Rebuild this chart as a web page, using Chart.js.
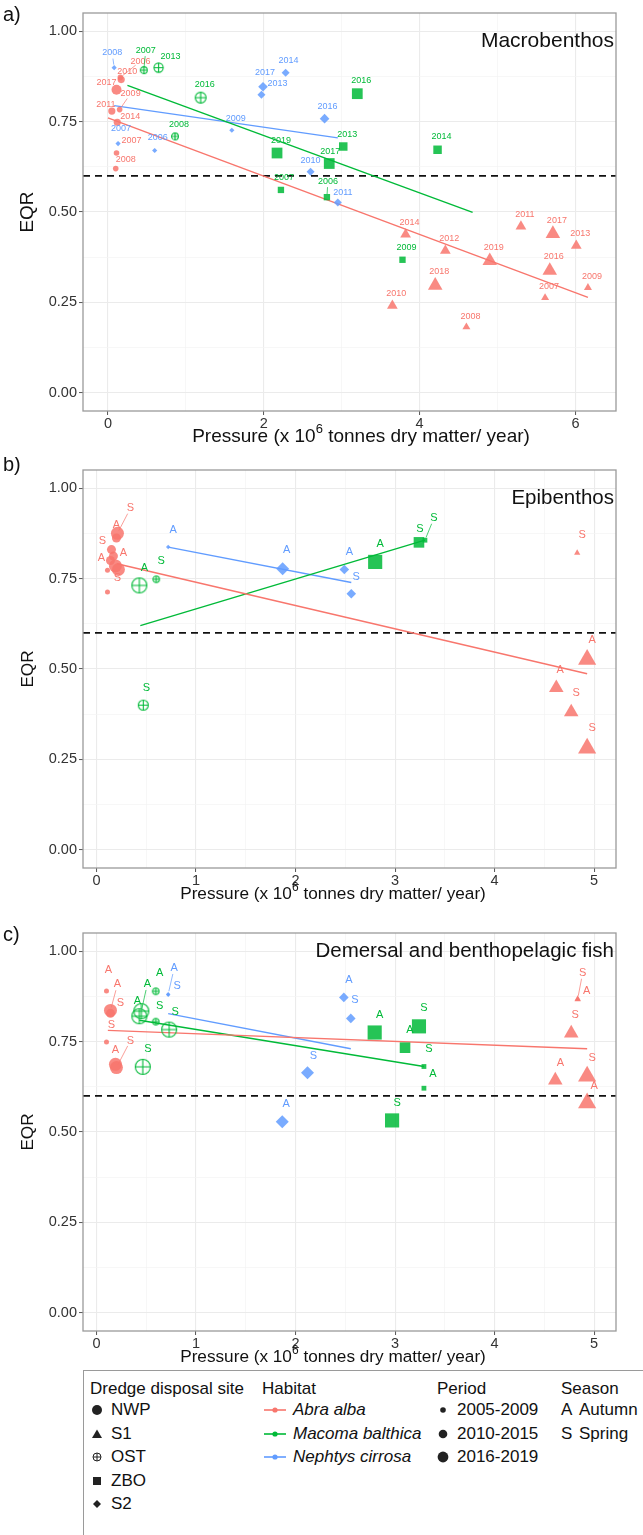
<!DOCTYPE html>
<html>
<head>
<meta charset="utf-8">
<script src="https://cdn.jsdelivr.net/npm/chart.js@4.4.1/dist/chart.umd.min.js"></script>
<style>
  body { margin: 0; background: #fff; width: 643px; height: 1535px; position: relative; overflow: hidden;
         font-family: "Liberation Sans", Arial, sans-serif; color: #111; }
  .panel { position: absolute; left: 0; width: 643px; height: 450px; }
  #legend { position: absolute; left: 83px; top: 1370px; width: 600px; height: 200px;
            border: 1px solid #9a9a9a; font-size: 17px; }
  #legend .t { position: absolute; white-space: nowrap; line-height: 20px; transform: translateY(-50%); }
  #legend svg { position: absolute; transform: translate(-50%, -50%); }
  #legend i { font-style: italic; }
</style>
</head>
<body>
<div class="panel" style="top:0px"><canvas id="cA" width="643" height="450"></canvas></div>
<div class="panel" style="top:457px"><canvas id="cB" width="643" height="450"></canvas></div>
<div class="panel" style="top:920px"><canvas id="cC" width="643" height="450"></canvas></div>
<div id="legend"></div>
<script>
// ---------- data: a) Macrobenthos ----------
const macroHabitat = [
  'Abra alba','Abra alba','Abra alba','Abra alba','Abra alba','Abra alba','Abra alba','Abra alba',
  'Abra alba','Abra alba','Abra alba','Abra alba','Abra alba','Abra alba','Abra alba','Abra alba','Abra alba','Abra alba','Abra alba','Abra alba',
  'Macoma balthica','Macoma balthica','Macoma balthica','Macoma balthica',
  'Macoma balthica','Macoma balthica','Macoma balthica','Macoma balthica','Macoma balthica','Macoma balthica','Macoma balthica','Macoma balthica',
  'Nephtys cirrosa','Nephtys cirrosa','Nephtys cirrosa','Nephtys cirrosa','Nephtys cirrosa','Nephtys cirrosa','Nephtys cirrosa','Nephtys cirrosa','Nephtys cirrosa','Nephtys cirrosa'];
const macroSite = [
  'NWP','NWP','NWP','NWP','NWP','NWP','NWP','NWP',
  'S1','S1','S1','S1','S1','S1','S1','S1','S1','S1','S1','S1',
  'OST','OST','OST','OST',
  'ZBO','ZBO','ZBO','ZBO','ZBO','ZBO','ZBO','ZBO',
  'S2','S2','S2','S2','S2','S2','S2','S2','S2','S2'];
const macroYear = [
  2010, 2006, 2017, 2009, 2011, 2014, 2007, 2008,
  2014, 2012, 2019, 2011, 2017, 2013, 2016, 2009, 2007, 2018, 2010, 2008,
  2007, 2013, 2016, 2008,
  2019, 2007, 2017, 2006, 2013, 2016, 2014, 2009,
  2008, 2007, 2006, 2009, 2017, 2013, 2014, 2016, 2010, 2011];
const macroPressure = [
  0.17, 0.16, 0.11, 0.15, 0.05, 0.12, 0.11, 0.10,
  3.82, 4.33, 4.90, 5.30, 5.71, 6.01, 5.67, 6.16, 5.61, 4.20, 3.65, 4.60,
  0.46, 0.65, 1.19, 0.86,
  2.17, 2.22, 2.84, 2.81, 3.02, 3.20, 4.23, 3.78,
  0.08, 0.13, 0.60, 1.59, 1.99, 1.97, 2.28, 2.78, 2.60, 2.95];
const macroEQR = [
  0.866, 0.872, 0.838, 0.783, 0.779, 0.748, 0.663, 0.620,
  0.438, 0.393, 0.365, 0.460, 0.440, 0.407, 0.338, 0.291, 0.263, 0.297, 0.241, 0.182,
  0.892, 0.899, 0.816, 0.709,
  0.663, 0.561, 0.634, 0.541, 0.681, 0.827, 0.672, 0.368,
  0.899, 0.689, 0.670, 0.726, 0.846, 0.824, 0.885, 0.758, 0.611, 0.526];
const macroTrendX0 = [0.00, 0.25, 0.08];
const macroTrendX1 = [6.16, 4.68, 2.95];
const macroTrendY0 = [0.760, 0.850, 0.794];
const macroTrendY1 = [0.264, 0.499, 0.705];

// ---------- data: b) Epibenthos ----------
const epiHabitat = [
  'Abra alba','Abra alba','Abra alba','Abra alba','Abra alba','Abra alba','Abra alba','Abra alba','Abra alba',
  'Abra alba','Abra alba','Abra alba','Abra alba','Abra alba',
  'Macoma balthica','Macoma balthica','Macoma balthica',
  'Macoma balthica','Macoma balthica','Macoma balthica',
  'Nephtys cirrosa','Nephtys cirrosa','Nephtys cirrosa','Nephtys cirrosa'];
const epiSite = [
  'NWP','NWP','NWP','NWP','NWP','NWP','NWP','NWP','NWP',
  'S1','S1','S1','S1','S1',
  'OST','OST','OST',
  'ZBO','ZBO','ZBO',
  'S2','S2','S2','S2'];
const epiPeriod = [3, 2, 2, 2, 2, 1, 3, 3, 1,  1, 3, 2, 2, 3,  3, 1, 2,  3, 2, 1,  1, 3, 2, 2];
const epiSeason = ['S','A','S','A','A','','S','','',  'S','A','A','S','S',  'A','S','S',  'A','S','S',  'A','A','A','S'];
const epiPressure = [0.21, 0.20, 0.15, 0.17, 0.14, 0.11, 0.19, 0.22, 0.11,
  4.83, 4.93, 4.62, 4.77, 4.93,  0.43, 0.60, 0.47,  2.80, 3.24, 3.30,  0.72, 1.87, 2.49, 2.56];
const epiEQR = [0.875, 0.862, 0.830, 0.812, 0.800, 0.773, 0.785, 0.775, 0.713,
  0.821, 0.526, 0.448, 0.381, 0.281,  0.731, 0.748, 0.400,  0.796, 0.850, 0.856,  0.837, 0.777, 0.775, 0.708];
const epiTrendX0 = [0.205, 0.44, 0.72];
const epiTrendX1 = [4.93, 3.30, 2.56];
const epiTrendY0 = [0.791, 0.620, 0.837];
const epiTrendY1 = [0.487, 0.856, 0.739];

// ---------- data: c) Demersal and benthopelagic fish ----------
const fishHabitat = [
  'Abra alba','Abra alba','Abra alba','Abra alba','Abra alba','Abra alba',
  'Abra alba','Abra alba','Abra alba','Abra alba','Abra alba','Abra alba',
  'Macoma balthica','Macoma balthica','Macoma balthica','Macoma balthica','Macoma balthica','Macoma balthica',
  'Macoma balthica','Macoma balthica','Macoma balthica','Macoma balthica','Macoma balthica','Macoma balthica',
  'Nephtys cirrosa','Nephtys cirrosa','Nephtys cirrosa','Nephtys cirrosa','Nephtys cirrosa','Nephtys cirrosa'];
const fishSite = [
  'NWP','NWP','NWP','NWP','NWP','NWP',
  'S1','S1','S1','S1','S1','S1',
  'OST','OST','OST','OST','OST','OST',
  'ZBO','ZBO','ZBO','ZBO','ZBO','ZBO',
  'S2','S2','S2','S2','S2','S2'];
const fishPeriod = [1, 3, 2, 1, 3, 3,  1, 1, 2, 2, 3, 3,  1, 3, 3, 1, 3, 3,  3, 2, 3, 1, 1, 3,  1, 1, 2, 2, 3, 3];
const fishSeason = ['A','A','S','S','A','S',  'S','A','S','A','S','A',  'A','A','A','S','S','S',  'A','A','S','S','A','S',  'A','S','A','S','S','A'];
const fishPressure = [0.10, 0.14, 0.14, 0.10, 0.19, 0.20,  4.835, 4.835, 4.77, 4.61, 4.93, 4.93,
  0.595, 0.45, 0.43, 0.595, 0.73, 0.465,  2.795, 3.10, 3.24, 3.29, 3.29, 2.97,
  0.72, 0.72, 2.485, 2.555, 2.12, 1.866];
const fishEQR = [0.890, 0.836, 0.828, 0.749, 0.687, 0.678,  0.868, 0.866, 0.773, 0.643, 0.654, 0.580,
  0.889, 0.834, 0.820, 0.805, 0.783, 0.680,  0.775, 0.733, 0.792, 0.681, 0.621, 0.532,
  0.881, 0.879, 0.872, 0.814, 0.664, 0.528];
const fishTrendX0 = [0.114, 0.43, 0.72];
const fishTrendX1 = [4.93, 3.29, 2.555];
const fishTrendY0 = [0.781, 0.809, 0.827];
const fishTrendY1 = [0.730, 0.681, 0.730];

const habitats = ['Abra alba', 'Macoma balthica', 'Nephtys cirrosa'];
const eqrThreshold = 0.6;
const yTicks = [0, 0.25, 0.5, 0.75, 1];

// ---------- styling / layout ----------
const FONT = '"Liberation Sans", Arial, sans-serif';
const COLORS = { 'Abra alba': '#F8766D', 'Macoma balthica': '#00BA38', 'Nephtys cirrosa': '#619CFF' };
function rgba(hex, a) {
  const n = parseInt(hex.slice(1), 16);
  return `rgba(${n >> 16},${(n >> 8) & 255},${n & 255},${a})`;
}
const STYLE = { NWP: 'circle', S1: 'triangle', OST: 'ost', ZBO: 'rect', S2: 'rectRot' };
// point radius by period (small, medium, large)
const SIZE_A = { NWP: [2.8, 3.6, 5.0], S1: [4.6, 6.2, 8.4], OST: [3.4, 4.6, 5.4], ZBO: [4.5, 6.0, 7.6], S2: [2.6, 4.0, 4.8] };
const SIZE_BC = { NWP: [2.5, 4.5, 6.5], S1: [3.6, 8.4, 10.5], OST: [3.2, 5.0, 7.5], ZBO: [3.4, 7.5, 10.0], S2: [2.2, 4.8, 6.5] };

// label placement (dx, dy in px, leader flag)
const macroNudge = [
  [6,-8],[20,-16,1],[-10,-7],[11,-16,1],[-6,-7],[13,-6],[15,-13],[10,-9],
  [4,-12],[4,-12],[4,-13],[4,-12],[4,-13],[4,-12],[4,-14],[4,-11],[4,-11],[4,-14],[4,-12],[4,-11],
  [2,-20,1],[12,-11],[4,-13],[4,-12],
  [4,-13],[3,-12],[1,-12],[1,-16,1],[4,-12],[4,-13],[4,-13],[4,-12],
  [-2,-15,1],[3,-15],[3,-13],[4,-12],[2,-14],[16,-11],[3,-12],[3,-12],[0,-11],[5,-10]];
const epiNudge = [
  [13,-25,1],[0,-13],[-9,-9],[10,-3],[-9,-2],[0,0],[2,12],[0,0],[0,0],
  [5,-18],[5,-20],[4,-18],[5,-19],[5,-20],
  [5,-17],[5,-18],[3,-17],
  [5,-18],[1,-13],[9,-22,1],
  [5,-17],[4,-19],[5,-18],[5,-17]];
const fishNudge = [
  [2,-21],[7,-26,1],[10,-10],[5,-17],[0,-14],[14,-27,1],
  [5,-26,1],[9,-9],[4,-18],[5,-17],[5,-18],[7,-17],
  [4,-18],[6,-27,1],[-2,-15],[4,-16],[6,-18],[5,-18],
  [5,-18],[5,-18],[5,-18],[5,-18],[9,-14],[5,-17],
  [6,-26,1],[9,-9],[5,-17],[4,-18],[6,-17],[4,-18]];

const ostCache = {};
function ostImage(r, color) {
  const key = r + color;
  if (ostCache[key]) return ostCache[key];
  const s = Math.ceil(2 * r + 3);
  const c = document.createElement('canvas');
  c.width = s; c.height = s;
  const g = c.getContext('2d');
  g.strokeStyle = color; g.lineWidth = 1.1;
  g.beginPath(); g.arc(s / 2, s / 2, r, 0, Math.PI * 2); g.stroke();
  g.beginPath();
  g.moveTo(s / 2 - r, s / 2); g.lineTo(s / 2 + r, s / 2);
  g.moveTo(s / 2, s / 2 - r); g.lineTo(s / 2, s / 2 + r);
  g.stroke();
  ostCache[key] = c;
  return c;
}

function periodOfYear(y) { return y <= 2009 ? 1 : (y <= 2015 ? 2 : 3); }

const near = (v, step) => Math.abs(v / step - Math.round(v / step)) < 1e-6;

const panelPlugin = {
  id: 'panel',
  afterDatasetsDraw(chart, args, o) {
    const { ctx, chartArea: a, scales: { x, y } } = chart;
    const p = o.p;
    ctx.save();
    // point labels
    ctx.font = `${p.labelSize}px ${FONT}`;
    ctx.textAlign = 'center';
    ctx.textBaseline = 'middle';
    p.pressure.forEach((v, i) => {
      const txt = p.labels[i];
      if (!txt) return;
      const px = x.getPixelForValue(v), py = y.getPixelForValue(p.eqr[i]);
      const [dx, dy, lead] = p.nudge[i];
      const col = COLORS[p.habitat[i]];
      ctx.fillStyle = col;
      ctx.fillText(txt, px + dx, py + dy);
      if (lead) {
        const len = Math.hypot(dx, dy), ux = dx / len, uy = dy / len;
        ctx.strokeStyle = col; ctx.lineWidth = 0.7;
        ctx.beginPath();
        ctx.moveTo(px + ux * 3, py + uy * 3);
        ctx.lineTo(px + dx - ux * 6, py + dy - uy * 6);
        ctx.stroke();
      }
    });
    // panel border
    ctx.strokeStyle = '#9a9a9a'; ctx.lineWidth = 1.3;
    ctx.strokeRect(a.left, a.top, a.right - a.left, a.bottom - a.top);
    // panel title
    ctx.fillStyle = '#111';
    ctx.font = `${p.titleSize}px ${FONT}`;
    ctx.textAlign = 'right';
    ctx.fillText(p.title, a.right - 2, p.titleY);
    ctx.restore();
  },
  afterDraw(chart, args, o) {
    const { ctx, chartArea: a } = chart;
    const p = o.p;
    ctx.save();
    ctx.fillStyle = '#111';
    ctx.textBaseline = 'middle';
    // panel letter
    ctx.font = `20px ${FONT}`;
    ctx.textAlign = 'left';
    ctx.fillText(p.letter, 3, p.letterY);
    // y title
    ctx.save();
    ctx.translate(28, (a.top + a.bottom) / 2);
    ctx.rotate(-Math.PI / 2);
    ctx.textAlign = 'center';
    ctx.font = `${p.axisTitleSize}px ${FONT}`;
    ctx.fillText('EQR', 0, 0);
    ctx.restore();
    // x title with superscript
    const f = p.axisTitleSize, fs = Math.round(f * 0.68);
    const t1 = 'Pressure (x 10', t2 = '6', t3 = ' tonnes dry matter/ year)';
    ctx.font = `${f}px ${FONT}`;
    const w1 = ctx.measureText(t1).width, w3 = ctx.measureText(t3).width;
    ctx.font = `${fs}px ${FONT}`;
    const w2 = ctx.measureText(t2).width;
    let sx = p.xTitleCenter - (w1 + w2 + w3) / 2;
    ctx.textAlign = 'left';
    ctx.font = `${f}px ${FONT}`;
    ctx.fillText(t1, sx, 437);
    ctx.font = `${fs}px ${FONT}`;
    ctx.fillText(t2, sx + w1, 437 - f * 0.38);
    ctx.font = `${f}px ${FONT}`;
    ctx.fillText(t3, sx + w1 + w2, 437);
    ctx.restore();
  }
};

function buildPanel(id, p) {
  const points = habitats.map(h => {
    const data = [];
    p.pressure.forEach((v, i) => { if (p.habitat[i] === h) data.push({ x: v, y: p.eqr[i], i }); });
    const col = COLORS[h];
    return {
      data,
      showLine: false,
      pointStyle: c => {
        const i = c.raw.i, st = STYLE[p.site[i]];
        return st === 'ost' ? ostImage(p.sizes.OST[p.period[i] - 1], col) : st;
      },
      pointRadius: c => p.sizes[p.site[c.raw.i]][p.period[c.raw.i] - 1],
      pointBackgroundColor: rgba(col, 0.85),
      pointBorderWidth: 0,
      pointHoverRadius: c => p.sizes[p.site[c.raw.i]][p.period[c.raw.i] - 1]
    };
  });
  const trends = habitats.map((h, k) => ({
    data: [{ x: p.tx0[k], y: p.ty0[k] }, { x: p.tx1[k], y: p.ty1[k] }],
    showLine: true, borderColor: COLORS[h], borderWidth: 1.4, pointRadius: 0
  }));
  const threshold = {
    data: [{ x: p.xMin, y: eqrThreshold }, { x: p.xMax, y: eqrThreshold }],
    showLine: true, borderColor: '#111', borderWidth: 1.8, borderDash: [7, 5], pointRadius: 0
  };
  const majorX = v => near(v, p.xLabelStep);
  const majorY = v => yTicks.some(t => Math.abs(t - v) < 1e-6);
  new Chart(document.getElementById(id), {
    type: 'scatter',
    data: { datasets: [...points, ...trends, threshold] },
    options: {
      responsive: false,
      animation: false,
      layout: { padding: { left: 0, right: 27, top: 13, bottom: 0 } },
      plugins: { legend: { display: false }, tooltip: { enabled: false }, panel: { p } },
      scales: {
        x: {
          type: 'linear', min: p.xMin, max: p.xMax,
          afterFit: s => { s.height = 39; },
          ticks: { stepSize: p.xStep, includeBounds: false, autoSkip: false, maxRotation: 0, padding: 0,
                   color: '#333', font: { family: FONT, size: 14.5 },
                   callback: v => majorX(v) ? String(Math.round(v)) : '' },
          grid: { color: c => majorX(c.tick.value) ? '#ebebeb' : '#f4f4f4',
                  lineWidth: c => majorX(c.tick.value) ? 1.1 : 0.7,
                  tickColor: c => majorX(c.tick.value) ? '#555' : 'rgba(0,0,0,0)',
                  tickLength: 4, tickWidth: 1 },
          border: { display: false }
        },
        y: {
          type: 'linear', min: -0.05, max: 1.05,
          afterFit: s => { s.width = 83; },
          ticks: { stepSize: 0.125, includeBounds: false, autoSkip: false, padding: 2,
                   color: '#333', font: { family: FONT, size: 14.5 },
                   callback: v => majorY(v) ? v.toFixed(2) : '' },
          grid: { color: c => majorY(c.tick.value) ? '#ebebeb' : '#f4f4f4',
                  lineWidth: c => majorY(c.tick.value) ? 1.1 : 0.7,
                  tickColor: c => majorY(c.tick.value) ? '#555' : 'rgba(0,0,0,0)',
                  tickLength: 4, tickWidth: 1 },
          border: { display: false }
        }
      }
    },
    plugins: [panelPlugin]
  });
}

buildPanel('cA', {
  habitat: macroHabitat, site: macroSite, pressure: macroPressure, eqr: macroEQR,
  period: macroYear.map(periodOfYear), labels: macroYear.map(String), nudge: macroNudge,
  tx0: macroTrendX0, tx1: macroTrendX1, ty0: macroTrendY0, ty1: macroTrendY1,
  sizes: SIZE_A, labelSize: 9, xMin: -0.32, xMax: 6.52, xStep: 1, xLabelStep: 2,
  title: 'Macrobenthos', titleSize: 21, titleY: 41, letter: 'a)', letterY: 15,
  axisTitleSize: 19, xTitleCenter: 361
});
buildPanel('cB', {
  habitat: epiHabitat, site: epiSite, pressure: epiPressure, eqr: epiEQR,
  period: epiPeriod, labels: epiSeason, nudge: epiNudge,
  tx0: epiTrendX0, tx1: epiTrendX1, ty0: epiTrendY0, ty1: epiTrendY1,
  sizes: SIZE_BC, labelSize: 11, xMin: -0.136, xMax: 5.22, xStep: 0.5, xLabelStep: 1,
  title: 'Epibenthos', titleSize: 20.5, titleY: 41, letter: 'b)', letterY: 8,
  axisTitleSize: 17.2, xTitleCenter: 333
});
buildPanel('cC', {
  habitat: fishHabitat, site: fishSite, pressure: fishPressure, eqr: fishEQR,
  period: fishPeriod, labels: fishSeason, nudge: fishNudge,
  tx0: fishTrendX0, tx1: fishTrendX1, ty0: fishTrendY0, ty1: fishTrendY1,
  sizes: SIZE_BC, labelSize: 11, xMin: -0.136, xMax: 5.22, xStep: 0.5, xLabelStep: 1,
  title: 'Demersal and benthopelagic fish', titleSize: 20.5, titleY: 31, letter: 'c)', letterY: 15,
  axisTitleSize: 17.2, xTitleCenter: 333
});

// ---------- legend ----------
const legendSites = ['NWP', 'S1', 'OST', 'ZBO', 'S2'];
const legendPeriods = ['2005-2009', '2010-2015', '2016-2019'];
const legendSeasons = [['A', 'Autumn'], ['S', 'Spring']];
const rowY = [18, 39, 63, 86, 110, 133];
const leg = document.getElementById('legend');
function addText(html, x, y) {
  const d = document.createElement('div');
  d.className = 't'; d.innerHTML = html;
  d.style.left = x + 'px'; d.style.top = y + 'px';
  leg.appendChild(d);
}
function addIcon(svg, x, y, w, h) {
  leg.insertAdjacentHTML('beforeend',
    `<svg width="${w}" height="${h}" viewBox="0 0 ${w} ${h}" style="left:${x}px;top:${y}px">${svg}</svg>`);
}
addText('Dredge disposal site', 6, rowY[0]);
const siteIcons = {
  NWP: '<circle cx="6" cy="6" r="5" fill="#222"/>',
  S1: '<polygon points="6,1.5 11,10 1,10" fill="#222"/>',
  OST: '<circle cx="6" cy="6" r="4" fill="none" stroke="#222" stroke-width="1"/><path d="M2 6H10M6 2V10" stroke="#222" stroke-width="1"/>',
  ZBO: '<rect x="2" y="2" width="8" height="8" fill="#222"/>',
  S2: '<polygon points="6,2 10,6 6,10 2,6" fill="#222"/>'
};
legendSites.forEach((s, k) => {
  addIcon(siteIcons[s], 13, rowY[k + 1], 12, 12);
  addText(s, 27, rowY[k + 1]);
});
addText('Habitat', 178, rowY[0]);
habitats.forEach((h, k) => {
  const c = COLORS[h];
  addIcon(`<path d="M0 5H22" stroke="${c}" stroke-width="1.6"/><circle cx="11" cy="5" r="2.6" fill="${c}"/>`, 191, rowY[k + 1], 22, 10);
  addText(`<i>${h}</i>`, 209, rowY[k + 1]);
});
addText('Period', 353, rowY[0]);
legendPeriods.forEach((t, k) => {
  const r = [2.8, 4.3, 5.4][k];
  addIcon(`<circle cx="6" cy="6" r="${r}" fill="#222"/>`, 359, rowY[k + 1], 12, 12);
  addText(t, 373, rowY[k + 1]);
});
addText('Season', 477, rowY[0]);
legendSeasons.forEach(([a, t], k) => {
  addText(a, 477, rowY[k + 1]);
  addText(t, 495, rowY[k + 1]);
});
</script>
</body>
</html>
